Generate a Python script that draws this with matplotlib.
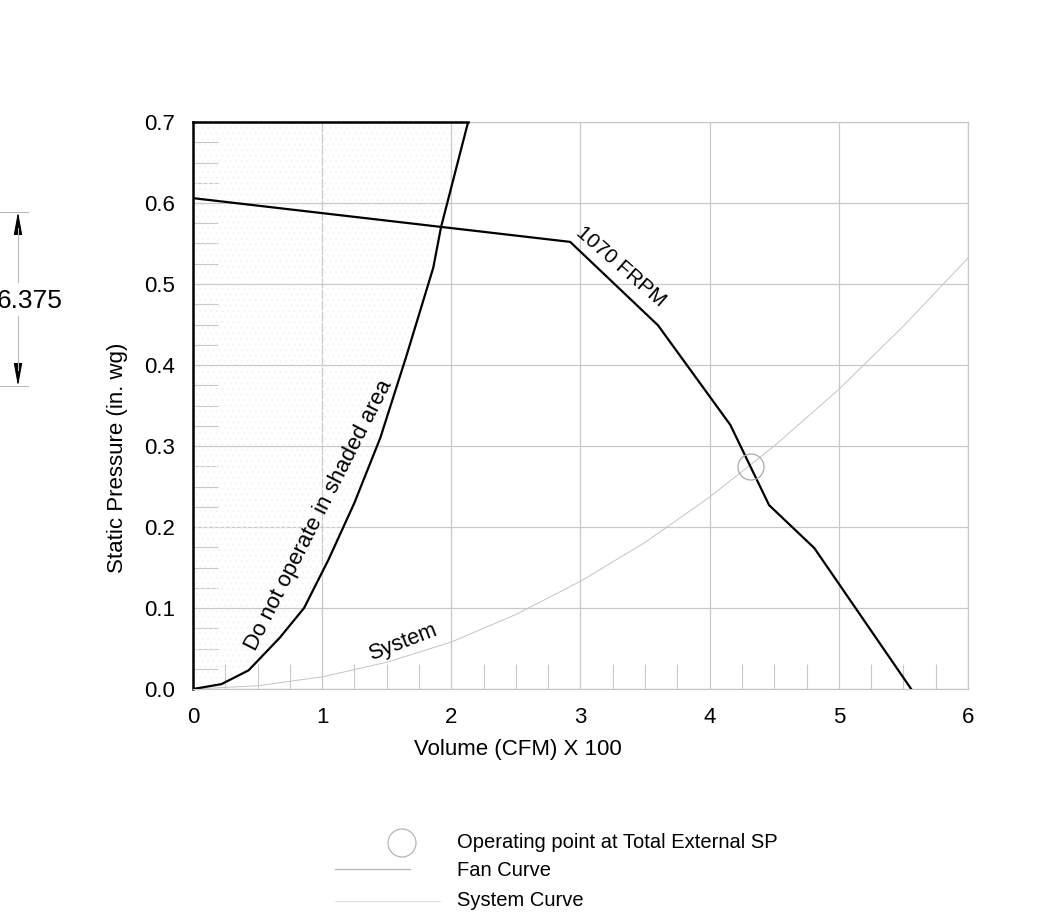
import matplotlib
matplotlib.use("Agg")
import matplotlib.pyplot as plt
from matplotlib.ticker import MultipleLocator
from matplotlib.patches import Ellipse

plt.rcParams['font.family'] = ['Liberation Sans', 'DejaVu Sans']
plt.rcParams['hatch.linewidth'] = 0.6

# Data
fan_x = [0.0, 2.92, 3.60, 4.16, 4.46, 4.81, 5.56]
fan_y = [0.606, 0.552, 0.449, 0.326, 0.227, 0.174, 0.0]

limit_x = [0.0, 0.22, 0.43, 0.67, 0.86, 1.05, 1.25, 1.45, 1.65, 1.86, 1.92, 2.13]
limit_y = [0.0, 0.006, 0.023, 0.063, 0.10, 0.16, 0.23, 0.31, 0.41, 0.52, 0.57, 0.70]

sys_x = [0.0, 0.5, 1.0, 1.5, 2.0, 2.5, 3.0, 3.5, 4.0, 4.5, 5.0, 5.5, 6.0]
sys_y = [0.0, 0.004, 0.015, 0.033, 0.058, 0.092, 0.133, 0.181, 0.237, 0.300, 0.370, 0.448, 0.532]

op_x, op_y = 4.32, 0.274

x_ticks = [0, 1, 2, 3, 4, 5, 6]
y_ticks = [0.0, 0.1, 0.2, 0.3, 0.4, 0.5, 0.6, 0.7]

W, H = 1049, 923
fig = plt.figure(figsize=(W / 100, H / 100), dpi=100)
ax = fig.add_axes([193 / W, 1 - 689 / H, (968 - 193) / W, (689 - 122) / H])
ax.set_xlim(0, 6)
ax.set_ylim(0, 0.7)

grid_c = '#c8c8c8'
ax.set_xticks(x_ticks)
ax.set_yticks(y_ticks)
ax.set_xticklabels([str(v) for v in x_ticks], fontsize=16)
ax.set_yticklabels([f"{v:.1f}" for v in y_ticks], fontsize=16)
ax.xaxis.set_minor_locator(MultipleLocator(0.25))
ax.yaxis.set_minor_locator(MultipleLocator(0.025))
ax.tick_params(axis='x', which='major', length=0, pad=13)
ax.tick_params(axis='y', which='major', length=0, pad=13)
ax.tick_params(which='minor', direction='in', length=18, color=grid_c, width=0.8)
ax.tick_params(axis='x', which='minor', bottom=True, top=False)
ax.tick_params(axis='y', which='minor', left=True, right=False)
ax.grid(True, which='major', color=grid_c, linewidth=0.9)
ax.set_axisbelow(True)
for side in ['right', 'bottom', 'top']:
    ax.spines[side].set_color(grid_c)
    ax.spines[side].set_linewidth(0.9)
ax.spines['left'].set_color('black')
ax.spines['left'].set_linewidth(1.8)

# shaded region (faint stipple)
ax.fill_betweenx(limit_y, 0, limit_x, facecolor='none', edgecolor='#f2f2f2',
                 hatch='...', linewidth=0)
ax.plot([0, limit_x[-1]], [0.7, 0.7], color='black', lw=1.8, clip_on=False, zorder=5)

ax.plot(limit_x, limit_y, color='black', lw=1.6, zorder=4)
ax.plot(fan_x, fan_y, color='black', lw=1.6, zorder=4)
ax.plot(sys_x, sys_y, color='#c4c4c4', lw=0.7, zorder=3)

# operating point circle (circular in pixels)
r_px = 13
ax.add_patch(Ellipse((op_x, op_y), width=2 * r_px / 129.2, height=2 * r_px / 810,
                     facecolor='none', edgecolor='#aaaaaa', lw=0.9, zorder=5))

# curve labels
ax.text(3.31, 0.522, '1070 FRPM', rotation=-41, fontsize=15,
        ha='center', va='center', rotation_mode='anchor')
ax.text(0.975, 0.215, 'Do not operate in shaded area', rotation=63, fontsize=16,
        ha='center', va='center', rotation_mode='anchor')
ax.text(1.62, 0.058, 'System', rotation=21, fontsize=15.5, ha='center', va='center',
        rotation_mode='anchor')

ax.set_xlabel('Volume (CFM) X 100', fontsize=16)
ax.set_ylabel('Static Pressure (in. wg)', fontsize=16)
ax.xaxis.set_label_coords((518 - 193) / 775, (689 - 750) / 567)
ax.xaxis.label.set_va('center')
ax.yaxis.set_label_coords((118 - 193) / 775, (689 - 458) / 567)
ax.yaxis.label.set_va('center')

# dimension annotation
def fx(px):
    return px / W

def fy(py):
    return 1 - py / H

dim_c = '#bbbbbb'
arrow = '-|>,head_length=0.7,head_width=0.13'
fig.add_artist(plt.Line2D([fx(0), fx(28)], [fy(212), fy(212)], color=dim_c, lw=0.8))
fig.add_artist(plt.Line2D([fx(0), fx(28)], [fy(386), fy(386)], color=dim_c, lw=0.8))
fig.add_artist(plt.Line2D([fx(18), fx(18)], [fy(228), fy(282)], color=dim_c, lw=0.8))
fig.add_artist(plt.Line2D([fx(18), fx(18)], [fy(316), fy(370)], color=dim_c, lw=0.8))
ax.annotate('', xy=(fx(18), fy(212)), xytext=(fx(18), fy(234)), xycoords='figure fraction',
            textcoords='figure fraction',
            arrowprops=dict(arrowstyle=arrow, color='black',
                            lw=0.8, mutation_scale=20, shrinkA=0, shrinkB=0))
ax.annotate('', xy=(fx(18), fy(386)), xytext=(fx(18), fy(364)), xycoords='figure fraction',
            textcoords='figure fraction',
            arrowprops=dict(arrowstyle=arrow, color='black',
                            lw=0.8, mutation_scale=20, shrinkA=0, shrinkB=0))
fig.text(fx(-3), fy(301), '6.375', fontsize=19, ha='left', va='center')

# legend
leg_c = '#b5b5b5'
fig.add_artist(Ellipse((fx(402), fy(843)), width=28 / W, height=28 / H,
                       facecolor='none', edgecolor=leg_c, lw=0.9))
fig.text(fx(457), fy(843), 'Operating point at Total External SP', fontsize=14.5,
         ha='left', va='center')
fig.add_artist(plt.Line2D([fx(335), fx(410)], [fy(869), fy(869)], color=leg_c, lw=0.9))
fig.text(fx(457), fy(870), 'Fan Curve', fontsize=14.5, ha='left', va='center')
fig.add_artist(plt.Line2D([fx(335), fx(440)], [fy(901), fy(901)], color='#cfcfcf', lw=0.9,
                          linestyle=(0, (1, 0.6))))
fig.text(fx(457), fy(901), 'System Curve', fontsize=14.5, ha='left', va='center')

fig.savefig('out.png', dpi=100)
